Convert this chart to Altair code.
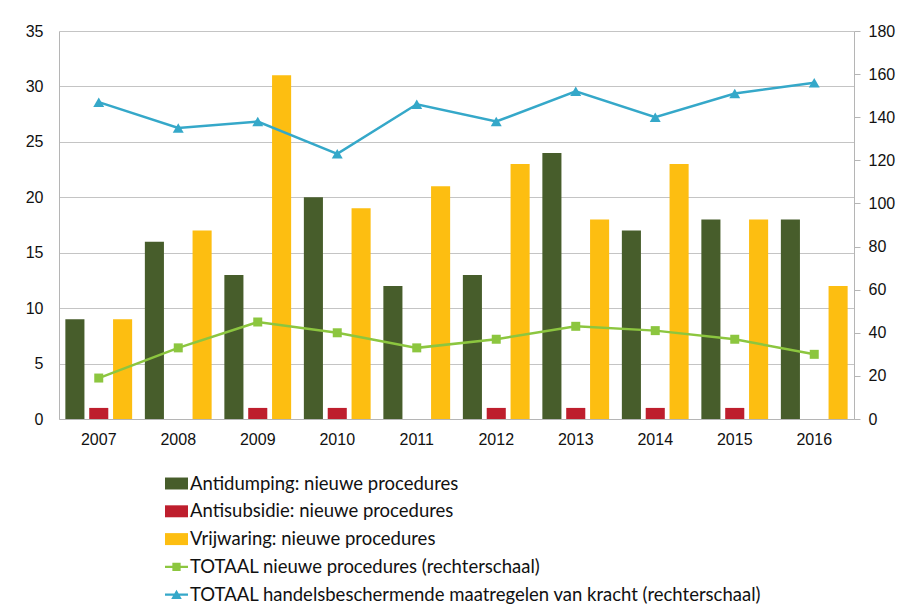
import altair as alt
import pandas as pd

years = ["2007", "2008", "2009", "2010", "2011", "2012", "2013", "2014", "2015", "2016"]
antidumping = [9, 16, 13, 20, 12, 13, 24, 17, 18, 18]
antisubsidie = [1, 0, 1, 1, 0, 1, 1, 1, 1, 0]
vrijwaring = [9, 17, 31, 19, 21, 23, 18, 23, 18, 12]
totaal_nieuw = [19, 33, 45, 40, 33, 37, 43, 41, 37, 30]
totaal_kracht = [147, 135, 138, 123, 146, 138, 152, 140, 151, 156]

bar_names = ["Antidumping: nieuwe procedures", "Antisubsidie: nieuwe procedures", "Vrijwaring: nieuwe procedures"]
line_names = ["TOTAAL nieuwe procedures (rechterschaal)",
              "TOTAAL handelsbeschermende maatregelen van kracht (rechterschaal)"]
all_names = bar_names + line_names
bar_colors = ["#475D2B", "#BE1E2D", "#FDBE11"]
line_colors = ["#8CC63F", "#35A8C9"]
colors = bar_colors + line_colors

bar_rows = []
for name, vals in zip(bar_names, [antidumping, antisubsidie, vrijwaring]):
    for y, v in zip(years, vals):
        bar_rows.append({"jaar": y, "reeks": name, "waarde": v})
bars_df = pd.DataFrame(bar_rows)

line_rows = []
for name, vals in zip(line_names, [totaal_nieuw, totaal_kracht]):
    for y, v in zip(years, vals):
        line_rows.append({"jaar": y, "reeks": name, "waarde": v})
lines_df = pd.DataFrame(line_rows)

# legend symbols (unit square -1..1)
sym_bar = "M-1,-0.52H1V0.52H-1Z"
sym_sq = "M-1,-0.1H1V0.1H-1Z M-0.36,-0.36H0.36V0.36H-0.36Z"
sym_tri = "M-1,-0.1H1V0.1H-1Z M0,-0.42L0.46,0.38H-0.46Z"

color_scale = alt.Scale(domain=all_names, range=colors)
shape_scale = alt.Scale(domain=all_names, range=[sym_bar, sym_bar, sym_bar, sym_sq, sym_tri])

x_enc = alt.X("jaar:N", sort=years, title=None,
              scale=alt.Scale(paddingInner=0.1, paddingOuter=0.05),
              axis=alt.Axis(labelAngle=0, ticks=False, tickSize=0, labelPadding=12,
                            labelFont="Liberation Sans", labelFontSize=16, labelColor="#111111",
                            domainColor="#B5B5B5", grid=False))

bars = alt.Chart(bars_df).mark_bar().encode(
    x=x_enc,
    xOffset=alt.XOffset("reeks:N", sort=bar_names,
                        scale=alt.Scale(domain=bar_names, paddingInner=0.2, paddingOuter=0.1)),
    y=alt.Y("waarde:Q", title=None,
            scale=alt.Scale(domain=[0, 35], nice=False),
            axis=alt.Axis(values=[0, 5, 10, 15, 20, 25, 30, 35], ticks=False, tickSize=0,
                          labelPadding=16, labelFont="Liberation Sans", labelFontSize=16,
                          labelColor="#111111", domainColor="#B5B5B5",
                          grid=True, gridColor="#C4C4C4", orient="left")),
    fill=alt.Fill("reeks:N", scale=alt.Scale(domain=bar_names, range=bar_colors), legend=None),
)

y_right = alt.Y("waarde:Q", title=None,
                scale=alt.Scale(domain=[0, 180], nice=False),
                axis=alt.Axis(values=list(range(0, 181, 20)), orient="right", ticks=True, tickSize=6,
                              tickColor="#B5B5B5", labelPadding=8, labelFont="Liberation Sans",
                              labelFontSize=16, labelColor="#111111", domainColor="#B5B5B5",
                              grid=False))

line = alt.Chart(lines_df).mark_line(strokeWidth=2.5).encode(
    x=x_enc, y=y_right,
    stroke=alt.Stroke("reeks:N", scale=alt.Scale(domain=line_names, range=line_colors), legend=None),
    detail="reeks:N",
)

pts_sq = alt.Chart(lines_df).transform_filter(
    alt.datum.reeks == line_names[0]
).mark_point(shape="square", filled=True, size=81, opacity=1, strokeWidth=0,
             color=line_colors[0]).encode(x=x_enc, y=y_right)

pts_tri = alt.Chart(lines_df).transform_filter(
    alt.datum.reeks == line_names[1]
).mark_point(shape="triangle-up", filled=True, size=120, opacity=1, strokeWidth=0,
             color=line_colors[1]).encode(x=x_enc, y=y_right)

legend_layer = alt.Chart(lines_df).transform_filter("false").mark_point(filled=True, opacity=1).encode(
    x=x_enc, y=y_right,
    color=alt.Color("reeks:N", scale=color_scale,
                    legend=alt.Legend(title=None, orient="none", legendX=106, legendY=441,
                                      direction="vertical")),
    shape=alt.Shape("reeks:N", scale=shape_scale),
)

right = alt.layer(line, pts_sq, pts_tri, legend_layer)

chart = alt.layer(bars, right).resolve_scale(y="independent").properties(
    width=795, height=388,
    autosize=alt.AutoSizeParams(type="none"),
    padding={"left": 51, "top": 23, "right": 42, "bottom": 192},
    background="white",
).configure_view(stroke=None).configure_legend(
    symbolSize=529, symbolStrokeWidth=0, symbolOpacity=1,
    labelFont="Lato", labelFontSize=18.5, labelColor="#111111", labelOffset=2,
    rowPadding=6.8, padding=0, labelLimit=800,
)

chart.save("out.html", embed_options={"renderer": "svg", "actions": False})
